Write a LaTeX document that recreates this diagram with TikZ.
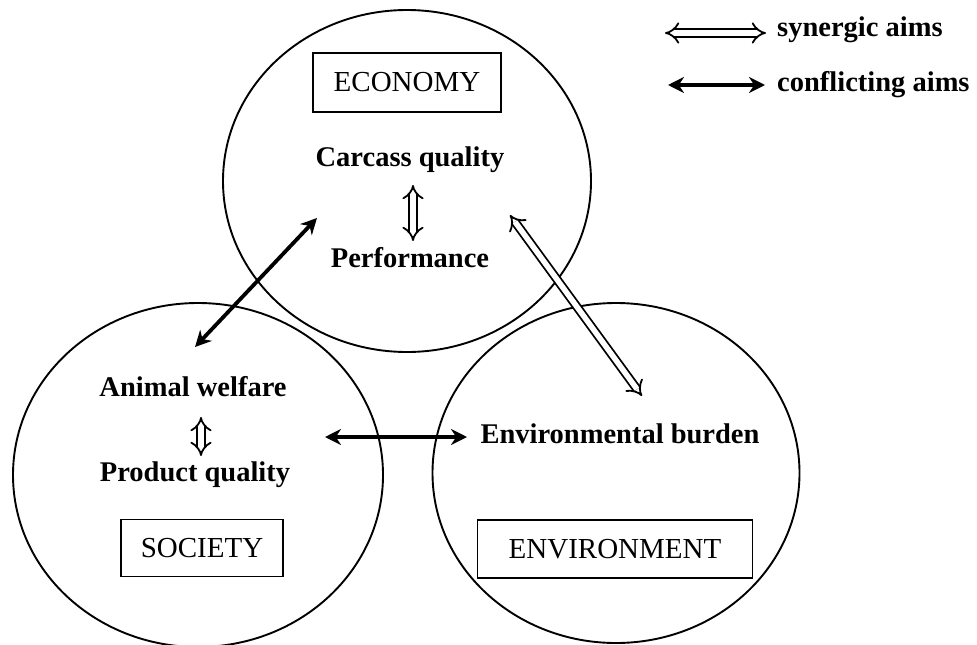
\documentclass[tikz,border=0pt]{standalone}
\usepackage{fontspec}
\setmainfont{Liberation Serif}
\usetikzlibrary{arrows.meta,shapes.geometric}
\begin{document}
\begin{tikzpicture}[x=1pt,y=-1pt,
  lbl/.style={font=\fontsize{28.5}{32}\selectfont\bfseries, inner sep=0pt},
  region/.style={draw, line width=1.9pt, ellipse, inner sep=0pt},
  titlebox/.style={draw, line width=1.2pt, inner sep=0pt, font=\fontsize{29}{32}\selectfont},
  syn/.style={double, double distance=5.5pt, line width=1.8pt, {Implies[length=7pt]}-{Implies[length=7pt]}},
  conf/.style={line width=3.8pt, {Stealth[length=16pt,width=16pt]}-{Stealth[length=16pt,width=16pt]}}
]
\useasboundingbox (0,0) rectangle (977,645);

% regions
\node[region, minimum width=368pt, minimum height=342pt] (eco) at (407,181) {};
\node[region, minimum width=370pt, minimum height=344pt] (soc) at (198,475) {};
\node[region, minimum width=367pt, minimum height=340pt] (env) at (616,473) {};

% titles
\node[titlebox, minimum width=188pt, minimum height=59pt] (ecobox) at (407,82.5) {ECONOMY};
\node[titlebox, minimum width=162pt, minimum height=57pt] (socbox) at (202,548) {SOCIETY};
\node[titlebox, minimum width=275pt, minimum height=58pt] (envbox) at (615,549) {ENVIRONMENT};

% labels
\node[lbl, anchor=base] (carc) at (410,166) {Carcass quality};
\node[lbl, anchor=base] (perf) at (410,267) {Performance};
\node[lbl, anchor=base] (anw) at (193,396) {Animal welfare};
\node[lbl, anchor=base] (prq) at (195,481) {Product quality};
\node[lbl, anchor=base] (envb) at (620,443) {Environmental burden};

% arrow end points
\coordinate (e1) at (413,185);
\coordinate (e2) at (413,241);
\coordinate (s1) at (201,417);
\coordinate (s2) at (201,456);
\coordinate (c1) at (195,347);
\coordinate (c2) at (317,218);
\coordinate (h1) at (325,437);
\coordinate (h2) at (467,437);
\coordinate (d1) at (510,215);
\coordinate (d2) at (642,396);

\draw[syn] (e1) -- (e2);
\draw[syn] (s1) -- (s2);
\draw[conf] (c1) -- (c2);
\draw[conf] (h1) -- (h2);
\draw[syn] (d1) -- (d2);

% legend
\coordinate (l1a) at (665,33);
\coordinate (l1b) at (766,33);
\coordinate (l2a) at (668,85);
\coordinate (l2b) at (765,85);
\draw[syn] (l1a) -- (l1b);
\draw[conf] (l2a) -- (l2b);
\node[lbl, anchor=base west] (legsyn) at (777,36) {synergic aims};
\node[lbl, anchor=base west] (legcon) at (777,91) {conflicting aims};
\end{tikzpicture}
\end{document}
